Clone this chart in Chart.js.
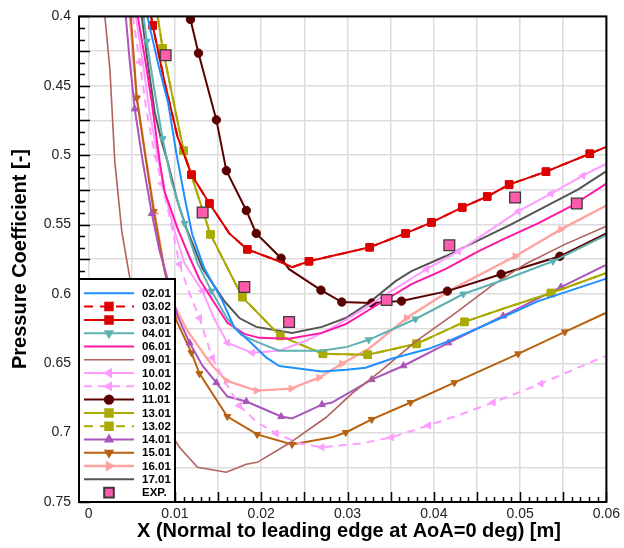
<!DOCTYPE html>
<html>
<head>
<meta charset="utf-8">
<script src="https://cdn.jsdelivr.net/npm/chart.js@4/dist/chart.umd.min.js"></script>
<style>
  html, body { margin: 0; padding: 0; background: #fff; }
  #wrap { width: 624px; height: 548px; }
</style>
</head>
<body>
<div id="wrap"><canvas id="cp" width="624" height="548"></canvas></div>
<script>
// x [m], Cp [-]
const s0201 = [[0.0064,0.386],[0.0068,0.40],[0.0082,0.438],[0.0092,0.462],[0.0102,0.50],[0.0112,0.533],[0.0120,0.557],[0.0134,0.5815],[0.0155,0.605],[0.0169,0.6245],[0.0186,0.634],[0.0206,0.646],[0.0221,0.652],[0.0270,0.656],[0.0299,0.6547],[0.0321,0.6532],[0.0351,0.6468],[0.0394,0.6396],[0.0417,0.634],[0.0478,0.6174],[0.0521,0.6052],[0.0600,0.589]];
const s0301 = [[0.00696,0.390],[0.00742,0.4065],[0.0088,0.4473],[0.0103,0.4868],[0.01192,0.5141],[0.0140,0.5349],[0.0163,0.5564],[0.01838,0.5679],[0.02207,0.5765],[0.02357,0.5808],[0.02553,0.5765],[0.03257,0.5664],[0.03673,0.5564],[0.03973,0.5485],[0.0433,0.5377],[0.04619,0.5298],[0.04873,0.5212],[0.0530,0.5119],[0.05808,0.499],[0.0600,0.494]];
// 03.02 lies on top of 03.01 in the picture
const s0302 = s0301;
const s0401 = [[0.00615,0.390],[0.00673,0.4179],[0.00765,0.4545],[0.00857,0.4882],[0.00961,0.5191],[0.01111,0.5492],[0.01261,0.5779],[0.01423,0.598],[0.01608,0.6181],[0.01769,0.6296],[0.01977,0.6353],[0.02207,0.641],[0.02704,0.641],[0.02992,0.6382],[0.03246,0.6331],[0.03788,0.6181],[0.04342,0.6001],[0.04861,0.5887],[0.05381,0.5765],[0.05992,0.5578]];
const s0601 = [[0.00534,0.390],[0.00569,0.40],[0.0065,0.4294],[0.00731,0.4617],[0.00823,0.5047],[0.0088,0.5263],[0.0103,0.5528],[0.01169,0.5736],[0.01284,0.5894],[0.01457,0.6066],[0.01608,0.6209],[0.01804,0.6288],[0.01977,0.6317],[0.02323,0.6324],[0.02704,0.6281],[0.0298,0.6217],[0.03361,0.6073],[0.03742,0.593],[0.04134,0.5822],[0.04515,0.5693],[0.04827,0.56],[0.05207,0.5492],[0.05588,0.537],[0.0600,0.5205]];
const s0901 = [[0.00165,0.390],[0.00188,0.40],[0.00246,0.438],[0.00303,0.5047],[0.00384,0.555],[0.00477,0.5887],[0.00615,0.6339],[0.00765,0.6697],[0.00915,0.697],[0.01053,0.7106],[0.01261,0.725],[0.01596,0.7285],[0.01827,0.7228],[0.01954,0.7214],[0.02323,0.7077],[0.0275,0.6891],[0.0305,0.6719],[0.03361,0.6568],[0.0380,0.6339],[0.0425,0.6138],[0.04665,0.5944],[0.05058,0.5786],[0.05519,0.5643],[0.05992,0.5514]];
const s1001 = [[0.00523,0.390],[0.00546,0.40],[0.00627,0.433],[0.00707,0.4689],[0.0080,0.5011],[0.0088,0.5263],[0.00996,0.555],[0.01111,0.5779],[0.01319,0.598],[0.01457,0.6181],[0.01608,0.6353],[0.01896,0.6425],[0.02207,0.641],[0.02519,0.6339],[0.02819,0.6245],[0.0313,0.6131],[0.03361,0.6037],[0.03915,0.5822],[0.04284,0.5693],[0.0463,0.555],[0.04977,0.5406],[0.05358,0.5277],[0.05727,0.5148],[0.0600,0.5062]];
const s1002 = [[0.00488,0.390],[0.00511,0.40],[0.00592,0.433],[0.00673,0.4689],[0.00765,0.499],[0.00846,0.5205],[0.00938,0.5442],[0.01053,0.5786],[0.01146,0.5958],[0.01284,0.6174],[0.01434,0.6461],[0.01573,0.6626],[0.01746,0.6805],[0.01953,0.6927],[0.02173,0.7006],[0.02438,0.7077],[0.02704,0.7106],[0.03165,0.7077],[0.03511,0.7034],[0.03938,0.6948],[0.04342,0.6862],[0.04688,0.6783],[0.05242,0.6647],[0.05669,0.6532],[0.0600,0.6446]];
const s1101 = [[0.01148,0.390],[0.0118,0.4022],[0.01273,0.4265],[0.0148,0.4746],[0.01596,0.5112],[0.01827,0.5399],[0.01942,0.5564],[0.0223,0.5743],[0.02323,0.5822],[0.02692,0.5973],[0.02934,0.6059],[0.0328,0.6066],[0.03626,0.6052],[0.04157,0.598],[0.0478,0.5858],[0.05461,0.5729],[0.0600,0.5564]];
const s1301 = [[0.00765,0.390],[0.0080,0.40],[0.00857,0.423],[0.0110,0.4968],[0.01411,0.5571],[0.01781,0.6023],[0.0222,0.6303],[0.02715,0.6432],[0.03234,0.6439],[0.0380,0.636],[0.04354,0.6202],[0.04861,0.6095],[0.05358,0.5994],[0.05992,0.5851]];
// 13.02 lies on top of 13.01 in the picture
const s1302 = s1301;
const s1401 = [[0.00407,0.390],[0.0043,0.40],[0.00477,0.433],[0.00534,0.4667],[0.00627,0.5047],[0.00731,0.542],[0.00823,0.5693],[0.00904,0.5872],[0.0103,0.6159],[0.01169,0.6353],[0.01319,0.6518],[0.0148,0.664],[0.01608,0.674],[0.01827,0.6776],[0.02231,0.6884],[0.02357,0.6898],[0.02704,0.6798],[0.02819,0.6783],[0.0328,0.6618],[0.03649,0.6518],[0.04169,0.6353],[0.04804,0.6159],[0.05473,0.5951],[0.05992,0.5793]];
const s1501 = [[0.00465,0.390],[0.00488,0.40],[0.00557,0.4588],[0.0065,0.4976],[0.00754,0.5406],[0.0088,0.5836],[0.01019,0.6195],[0.01192,0.6425],[0.01284,0.6575],[0.01607,0.6884],[0.01953,0.7013],[0.02357,0.7085],[0.02819,0.7034],[0.0298,0.6999],[0.0328,0.6905],[0.0373,0.6783],[0.04238,0.664],[0.04977,0.6432],[0.05519,0.6274],[0.05992,0.6138]];
const s1601 = [[0.00453,0.390],[0.00477,0.40],[0.00557,0.4581],[0.00661,0.5011],[0.00765,0.542],[0.0088,0.5822],[0.00996,0.6087],[0.01146,0.6267],[0.01284,0.6389],[0.01434,0.6518],[0.01596,0.6626],[0.01942,0.6697],[0.02346,0.6683],[0.02669,0.6604],[0.02934,0.6504],[0.03246,0.6396],[0.03684,0.6174],[0.04192,0.5973],[0.04942,0.5729],[0.05473,0.5535],[0.0600,0.5363]];
const s1701 = [[0.0058,0.390],[0.00615,0.40],[0.00684,0.433],[0.00765,0.4689],[0.00846,0.4904],[0.00915,0.5047],[0.0103,0.5334],[0.01134,0.5528],[0.01319,0.5815],[0.01573,0.6052],[0.01746,0.6174],[0.01942,0.6238],[0.02357,0.6281],[0.02704,0.6238],[0.0298,0.6174],[0.03246,0.6066],[0.03557,0.5908],[0.03742,0.5836],[0.04134,0.5729],[0.04896,0.5499],[0.05358,0.5349],[0.05669,0.5248],[0.05992,0.5119]];
const sExp = [[0.00892,0.428],[0.01321,0.5413],[0.01804,0.5951],[0.02323,0.6202],[0.03453,0.6044],[0.0418,0.565],[0.04942,0.5306],[0.05657,0.5349]];

const seriesNames = ['02.01','03.02','03.01','04.01','06.01','09.01','10.01','10.02','11.01','13.01','13.02','14.01','15.01','16.01','17.01','EXP.'];
const seriesData  = [s0201, s0302, s0301, s0401, s0601, s0901, s1001, s1002, s1101, s1301, s1302, s1401, s1501, s1601, s1701, sExp];

const xTicks = [0,0.005,0.01,0.015,0.02,0.025,0.03,0.035,0.04,0.045,0.05,0.055,0.06];
const yTicks = [0.4,0.425,0.45,0.475,0.5,0.525,0.55,0.575,0.6,0.625,0.65,0.675,0.7,0.725,0.75];

// look of each case (colour, dash, marker, which points carry a marker)
const looks = {
  '02.01': { color: '#1f8fff' },
  '03.02': { color: '#dd0000', dash: [9, 7], marker: 'rect', r: 5.3, marks: [1,4,5,7,10,11,12,13,14,15,16,17,18] },
  '03.01': { color: '#dd0000', marker: 'rect', r: 5.3, marks: [1,4,5,7,10,11,12,13,14,15,16,17,18] },
  '04.01': { color: '#5fb1b1', marker: 'triangle', rot: 180, r: 4, marks: [1,3,5,7,14,15,16,18] },
  '06.01': { color: '#ff18a6' },
  '09.01': { color: '#b0625e', width: 1.6 },
  '10.01': { color: '#ff9cff', marker: 'triangle', rot: -90, r: 4, marks: [4,8,10,11,17,18,20,21,22] },
  '10.02': { color: '#ff9cff', dash: [8, 6], marker: 'triangle', rot: -90, r: 4, marks: [2,5,7,9,10,12,14,16,18,19,21,22] },
  '11.01': { color: '#5a0000', marker: 'circle', r: 4.2, marks: [1,2,3,4,5,6,7,9,10,11,12,13,14,15] },
  '13.01': { color: '#aaaa00', marker: 'rect', r: 5.3, marks: [2,3,4,5,6,7,8,9,10,12] },
  '13.02': { color: '#aaaa00', dash: [9, 7], marker: 'rect', r: 5.3, marks: [2,3,4,5,6,7,8,9,10,12] },
  '14.01': { color: '#aa55bb', marker: 'triangle', r: 4, marks: [3,5,9,11,13,14,16,18,19,20,21,22] },
  '15.01': { color: '#b8620f', marker: 'triangle', rot: 180, r: 4, marks: [2,4,7,8,9,10,11,13,14,15,16,17,18] },
  '16.01': { color: '#ffa2a2', width: 2.4, marker: 'triangle', rot: 90, r: 4, marks: [2,4,10,11,12,13,14,16,18,19] },
  '17.01': { color: '#555555' },
  'EXP.':  { color: '#3a3a3a', fill: '#ff5aac', marker: 'rect', r: 7.6, exp: true }
};

const FONT = "'Liberation Sans', Arial, Helvetica, sans-serif";

const datasets = seriesNames.map((name, i) => {
  const lk = looks[name];
  const marks = lk.marks || [];
  return {
    label: name,
    data: seriesData[i].map(p => ({ x: p[0], y: p[1] })),
    showLine: !lk.exp,
    borderColor: lk.color,
    backgroundColor: lk.fill || lk.color,
    borderWidth: lk.width || 2,
    borderDash: lk.dash || [],
    pointStyle: lk.marker || 'circle',
    pointRotation: lk.rot || 0,
    pointBackgroundColor: lk.fill || lk.color,
    pointBorderColor: lk.color,
    pointBorderWidth: lk.exp ? 1.3 : 1,
    pointRadius: lk.exp ? lk.r : (ctx) => marks.includes(ctx.dataIndex) ? lk.r : 0,
    pointHoverRadius: lk.exp ? lk.r : 0,
    tension: 0,
    clip: 0,
    order: lk.exp ? 0 : 1 + i
  };
});

const fmt = v => String(parseFloat(v.toFixed(3)));

const frameAndLegend = {
  id: 'frameAndLegend',
  afterDatasetsDraw(chart) {
    const { ctx, chartArea: a, scales: { x, y } } = chart;
    ctx.save();

    // inward ticks, bottom and left
    ctx.strokeStyle = '#000';
    ctx.lineWidth = 1.5;
    ctx.beginPath();
    for (let i = 0; i <= 60; i++) {
      const px = Math.round(x.getPixelForValue(i / 1000)) + 0.5;
      const len = i % 5 === 0 ? 10 : 5;
      ctx.moveTo(px, a.bottom);
      ctx.lineTo(px, a.bottom - len);
    }
    for (let i = 0; i <= 42; i++) {
      const py = Math.round(y.getPixelForValue(0.4 + i * 0.025 / 3)) + 0.5;
      const len = i % 3 === 0 ? 11 : 6;
      ctx.moveTo(a.left, py);
      ctx.lineTo(a.left + len, py);
    }
    ctx.stroke();

    // legend box in the lower left corner
    const bx = a.left, by = 279, bw = 96, bh = a.bottom - 279;
    ctx.fillStyle = '#fff';
    ctx.fillRect(bx, by, bw, bh);
    ctx.lineWidth = 2;
    ctx.strokeStyle = '#000';
    ctx.strokeRect(bx, by, bw, bh);

    ctx.font = 'bold 11.5px ' + FONT;
    ctx.textBaseline = 'middle';
    ctx.textAlign = 'left';
    seriesNames.forEach((name, i) => {
      const lk = looks[name];
      const ds = chart.data.datasets[i];
      const ry = 293.3 + i * 13.29;
      if (!lk.exp) {
        ctx.beginPath();
        ctx.setLineDash(ds.borderDash);
        ctx.lineWidth = ds.borderWidth;
        ctx.strokeStyle = ds.borderColor;
        ctx.moveTo(84, ry);
        ctx.lineTo(134, ry);
        ctx.stroke();
        ctx.setLineDash([]);
      }
      if (lk.marker) {
        ctx.fillStyle = lk.fill || lk.color;
        ctx.strokeStyle = lk.color;
        Chart.helpers.drawPoint(ctx, {
          pointStyle: lk.marker, radius: lk.exp ? 6.8 : lk.r,
          rotation: lk.rot || 0, borderWidth: lk.exp ? 1.3 : 1
        }, 109, ry);
      }
      ctx.fillStyle = '#000';
      ctx.fillText(name, 142, ry + 0.5);
    });

    // plot frame
    ctx.lineWidth = 2;
    ctx.strokeStyle = '#000';
    ctx.strokeRect(a.left, a.top, a.right - a.left, a.bottom - a.top);

    // axis titles
    ctx.fillStyle = '#000';
    ctx.font = 'bold 20px ' + FONT;
    ctx.textAlign = 'center';
    ctx.textBaseline = 'middle';
    ctx.fillText('X (Normal to leading edge at AoA=0 deg) [m]', 349, 531);
    ctx.translate(20, 259);
    ctx.rotate(-Math.PI / 2);
    ctx.fillText('Pressure Coefficient [-]', 0, 0);
    ctx.restore();
  }
};

new Chart(document.getElementById('cp'), {
  type: 'scatter',
  data: { datasets },
  options: {
    responsive: false,
    animation: false,
    devicePixelRatio: 1,
    layout: { padding: { top: 14, right: 15, left: 0, bottom: 0 } },
    plugins: { legend: { display: false }, tooltip: { enabled: false } },
    scales: {
      x: {
        type: 'linear',
        min: -0.00112,
        max: 0.06,
        afterBuildTicks: s => { s.ticks = xTicks.map(v => ({ value: v })); },
        afterFit: s => { s.height = 46; },
        grid: { color: '#dcdcdc', lineWidth: 1.5, drawTicks: false },
        border: { display: false },
        ticks: {
          padding: 4,
          color: '#222',
          font: { family: FONT, size: 14 },
          maxRotation: 0,
          autoSkip: false,
          callback: v => Math.round(v * 1000) % 10 === 0 ? fmt(v) : ''
        }
      },
      y: {
        type: 'linear',
        reverse: true,
        min: 0.4,
        max: 0.75,
        afterBuildTicks: s => { s.ticks = yTicks.map(v => ({ value: v })); },
        afterFit: s => { s.width = 79; },
        grid: { color: '#dcdcdc', lineWidth: 1.5, drawTicks: false },
        border: { display: false },
        ticks: {
          padding: 8,
          color: '#222',
          font: { family: FONT, size: 14 },
          autoSkip: false,
          callback: v => Math.round(v * 1000) % 50 === 0 ? fmt(v) : ''
        }
      }
    }
  },
  plugins: [frameAndLegend]
});
</script>
</body>
</html>
